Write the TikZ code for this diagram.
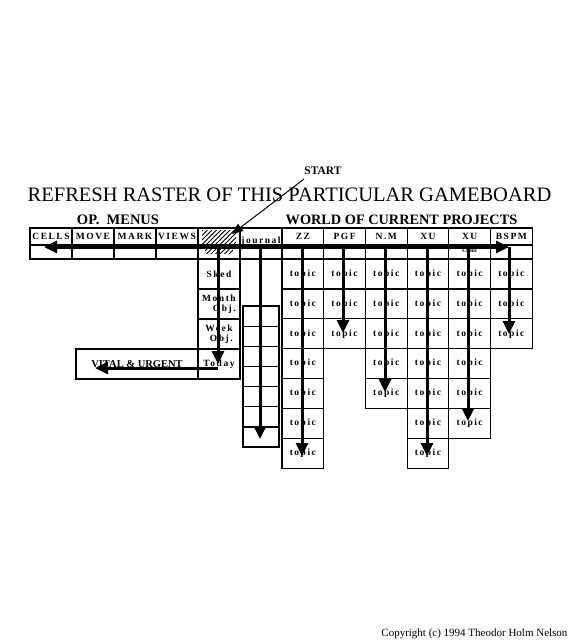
\documentclass[tikz,border=0pt]{standalone}
\usepackage{fontspec}
\setmainfont{Liberation Serif}
\newfontfamily\spacedfont[LetterSpace=16]{Liberation Serif}
\usetikzlibrary{positioning,arrows.meta}
\tikzset{>=Stealth}

\begin{document}
\begin{tikzpicture}[x=1pt,y=-1pt,
    box/.style={draw, line width=1.2pt, inner sep=0pt, outer sep=0pt},
    menucell/.style={box, minimum width=42pt, minimum height=17pt, font=\spacedfont\bfseries\fontsize{9.5}{10}\selectfont},
    lowcell/.style={box, minimum width=42pt, minimum height=14pt},
    projcell/.style={box, minimum width=41.7pt, minimum height=17pt, font=\spacedfont\bfseries\fontsize{9.5}{10}\selectfont},
    projlow/.style={box, minimum width=41.7pt, minimum height=14pt},
    topiccell/.style={box, minimum width=41.7pt, minimum height=29.9pt, font=\spacedfont\bfseries\fontsize{9.5}{10}\selectfont},
    daycell/.style={box, minimum width=42pt, minimum height=30pt, align=right, font=\spacedfont\bfseries\fontsize{9.5}{10}\selectfont},
    stackcell/.style={box, minimum width=36pt, minimum height=20.15pt},
    flow/.style={line width=3pt, -{Triangle[length=13pt,width=12pt]}},
    thinflow/.style={line width=1pt, -{Triangle[length=11pt,width=9pt]}},
  ]
  \useasboundingbox (0,0) rectangle (580,640);
  \fill[white] (0,0) rectangle (580,640);

  % Headings
  \node[anchor=base, font=\fontsize{20.5}{22}\selectfont] (title) at (289.5,201) {REFRESH RASTER OF THIS PARTICULAR GAMEBOARD};
  \node[anchor=base, font=\bfseries\fontsize{14.5}{15}\selectfont] (opmenus) at (118,224) {OP.\ \ MENUS};
  \node[anchor=base, font=\bfseries\fontsize{14.3}{15}\selectfont] (world) at (401.5,224) {WORLD OF CURRENT PROJECTS};
  \node[anchor=base, font=\bfseries\fontsize{11.5}{12}\selectfont] (start) at (323,174) {START};

  % Menu row
  \foreach \nm/\cx/\t in {cells/51/CELLS, move/93/MOVE, mark/135/MARK, views/177/VIEWS} {
    \node[menucell] (\nm-head) at (\cx,236.5) {\t};
    \node[lowcell] (\nm-low) at (\cx,252) {};
  }
  \node[menucell] (hatch-head) at (219,236.5) {};
  \node[lowcell] (hatch-low) at (219,252) {};
  \node[menucell] (journal-head) at (261,236.5) {};
  \node[lowcell] (journal-low) at (261,252) {};
  \node[anchor=base, font=\spacedfont\bfseries\fontsize{9.5}{10}\selectfont] (journal) at (261,243) {journal};

  % Hatching of the start cell
  \begin{scope}
    \clip (202,230) rectangle (236,243);
    \foreach \k in {0,...,12}
      \draw[line width=0.9pt] ({188+4.5*\k},245) -- ++(16,-16);
  \end{scope}
  \begin{scope}
    \clip (205,248) rectangle (233,253);
    \foreach \k in {0,...,10}
      \draw[line width=0.9pt] ({192+4.5*\k},255) -- ++(10,-10);
  \end{scope}

  % Projects
  \foreach \nm/\cx/\t in {zz/302.85/ZZ, pgf/344.55/PGF, nm/386.25/N.M, xu/427.95/XU, xuc/469.65/XU, bspm/511.35/BSPM} {
    \node[projcell] (\nm-head) at (\cx,236.5) {\t};
    \node[projlow] (\nm-low) at (\cx,252) {};
  }
  \node[font=\bfseries\fontsize{5.5}{6}\selectfont] (client) at (469.65,251) {Client};

  \foreach \nm/\cx/\n in {zz/302.85/7, pgf/344.55/3, nm/386.25/5, xu/427.95/7, xuc/469.65/6, bspm/511.35/3}
    \foreach \r in {1,...,\n}
      \node[topiccell] (\nm-\r) at (\cx,{259+29.9*(\r-0.5)}) {topic};

  % Day column
  \node[daycell] (sked) at (219,274) {Sked};
  \node[daycell] (month) at (219,304) {Month\\Obj.};
  \node[daycell] (week) at (219,334) {Week\\Obj.};
  \node[daycell] (today) at (219,364) {Today};
  \node[box, minimum width=122pt, minimum height=30pt, font=\bfseries\fontsize{10.5}{11}\selectfont] (vital) at (137,364) {VITAL \& URGENT};

  % Journal stack
  \foreach \r in {1,...,7}
    \node[stackcell] (stack-\r) at (261,{306+20.15*(\r-0.5)}) {};

  % Flow of the refresh
  \coordinate (start-from) at (304,179);
  \coordinate (start-to) at (232,234);
  \draw[thinflow] (start-from) -- (start-to);

  \coordinate (hub) at (218,247);
  \coordinate (cells-tip) at (44,247);
  \coordinate (turn) at (509,247);
  \coordinate (today-tip) at (218,364);
  \coordinate (today-turn) at (218,368);
  \coordinate (vital-tip) at (95,368);
  \draw[flow] (hub) -- (cells-tip);
  \draw[flow] (hub) -- (turn);
  \draw[flow] (hub) -- (today-tip);
  \draw[flow] (today-turn) -- (vital-tip);

  \foreach \nm/\x/\tip in {jr/260/439, zz/302/456, pgf/343/333, nm/385/392, xu/427/456, xuc/468/421, bspm/509/334} {
    \coordinate (\nm-drop) at (\x,247);
    \coordinate (\nm-tip) at (\x,\tip);
    \draw[flow] (\nm-drop) -- (\nm-tip);
  }

  \node[anchor=base east, font=\fontsize{11}{12}\selectfont] (copyright) at (571,636) {Copyright (c) 1994 Theodor Holm Nelson};
\end{tikzpicture}
\end{document}
